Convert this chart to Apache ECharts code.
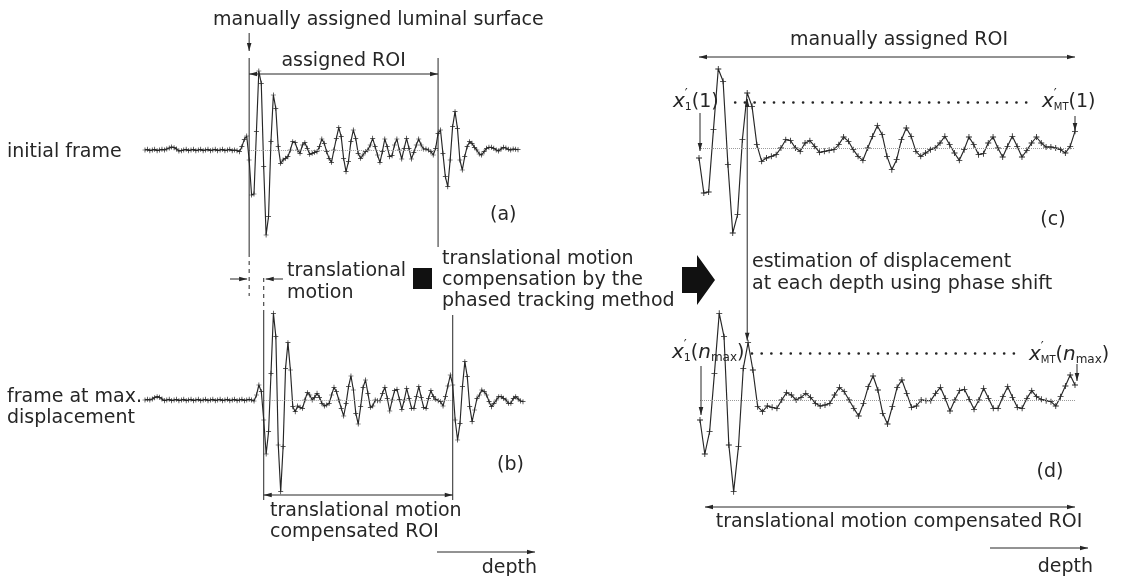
<!DOCTYPE html>
<html><head><meta charset="utf-8">
<script src="https://cdn.jsdelivr.net/npm/echarts@6/dist/echarts.min.js"></script>
<style>html,body{margin:0;padding:0;background:#fff}#c{width:1122px;height:576px}</style>
</head><body><div id="c"></div>
<script>
// ---- data (echo amplitudes, arbitrary units) ----
const preA = [0,0.2,-0.2,0,0.2,-0.2,0,0.2,0,0.3,0.6,0.9,0.7,0.3,-0.3,-0.2,0,0.2,-0.2,0,0.2,-0.2,0,0.2,-0.2,0,0.2,-0.2,0,0.2,-0.2,0,0.2,-0.2,0,0.2,-0.2,0,-0.2,-0.5,1.0,3.2,4.2];
const roiInitial = [-3,-13.5,-13.2,5.5,23.7,20,-5,-25.5,-20,2.5,16.5,12.5,1,-4,-3,-2.5,-2,0,2.5,2.2,0,-1,1.5,2.2,0.5,-1.3,-1,-0.7,-0.5,1,3.3,2,-0.5,-2.5,-3.7,0,3.5,6.7,4,-2.5,-6.5,-3.5,2.5,6,3.5,-1,-2.5,-1.5,-0.5,0,1.5,3.5,1,-1.5,-3.7,-0.5,3.3,1,-2,-1.7,1.5,3.3,0,-2.7,0.5,3.5,0.5,-2.7,-0.7,1.5,3.3,1.5,0.3,0.3,0,-0.5,-1.5,0.5,5];
const postA = [6,-1,-8,-11,-3,7,11.5,6.5,-3,-6,-2,1,2.5,2,0.8,0,-1.2,-1.5,-0.5,0.5,0.8,0.8,0.5,0,-0.3,0.3,0.8,0.6,0.2,0,0.3,0.2,0.1];
const preB = [0,0.2,0,0.3,0.7,1.0,0.8,0.3,-0.2,0,0.2,-0.2,0,0.2,-0.2,0,0.2,-0.2,0,0.2,-0.2,0,0.2,-0.2,0,0.2,-0.2,0,0.2,-0.2,0,0.2,-0.2,0,0.2,-0.2,0,0.2,-0.2,0,0.2,-0.2,0,0.2,0,-0.3,1.5,4.5,2.5];
const roiMax = [-6,-16.2,-9.5,8,26,19,-13.5,-27.5,-14,9.5,17.2,9,-2,-3.5,-1.8,-2.2,-2.5,0,2.2,1.5,0,0.8,2,0.8,-1,-1.8,-1.5,-1,1.5,3.8,2.5,0,-2.5,-4.8,-1,4,7.2,3,-4,-7.2,-2,3.8,6,2,-2.2,-1.8,0,-0.2,-0.2,2,3.8,0.5,-3.3,0,2.8,3.2,0.2,-2.8,0,3.5,0.5,-2.5,-2.5,1,4,0.8,-2.2,-2.5,0.5,2.8,1,0.2,-0.2,-0.5,-1.8,1,4.2,7.5,4.5];
const postB = [-6,-12,-7,4,11.5,7,-2,-6.5,-3,0.5,1.5,3,2.5,1.5,-0.5,-2,-1,0,1,1,0.5,0,-1,-1,0.5,1,0.3,-0.3,-0.5];
// reference (dotted) levels in panels (c) and (d): [startIndex, endIndex, level]
const refC = [7.5, 68, 13.8];
const refD = [10.8, 65.5, 14.1];
const peakIndex = 10; // surface echo peak used for displacement estimation

const frameInitial = preA.concat(roiInitial, postA);
const frameMax = preB.concat(roiMax, postB);

// ---- chart ----
const FONT = 'DejaVu Sans';
const INK = '#262626';
const FS = 19;
const plus = 'path://M4.3,0H5.7V4.3H10V5.7H5.7V10H4.3V5.7H0V4.3H4.3Z';
const pairs = a => a.map((v, i) => [i, v]);

const grids = [
  {left:145, top:50, width:373, height:200},
  {left:145, top:300, width:378, height:200},
  {left:699, top:48, width:376, height:200},
  {left:700, top:300, width:375, height:200}
];
const lens = [frameInitial.length, frameMax.length, roiInitial.length, roiMax.length];
const xAxes = grids.map((g, i) => ({type:'value', gridIndex:i, min:0, max:lens[i]-1, show:false}));
const yAxes = grids.map((g, i) => ({type:'value', gridIndex:i, min:-30, max:30, show:false}));

const faint = {type:'dotted', color:'#9a9a9a', width:1};
const dark = {type:[0.1, 9.6], cap:'round', color:'#222', width:2.6};
function ml(segs, style){
  return {silent:true, symbol:['none','none'], label:{show:false}, lineStyle:style,
    data: segs.map(s => [{coord:s[0]}, {coord:s[1]}])};
}
function sig(i, data, size, markLine){
  return {type:'line', xAxisIndex:i, yAxisIndex:i, data:pairs(data), symbol:plus, symbolSize:size,
    showSymbol:true, showAllSymbol:true, clip:false, silent:true, animation:false,
    lineStyle:{color:INK, width:1.15}, itemStyle:{color:INK}, markLine};
}
const aStart = preA.length, aEnd = preA.length + roiInitial.length - 1;
const bStart = preB.length, bEnd = preB.length + roiMax.length - 1;

const chart = echarts.init(document.getElementById('c'));
chart.setOption({
  animation:false, backgroundColor:'#fff',
  grid: grids, xAxis: xAxes, yAxis: yAxes,
  series: [
    sig(0, frameInitial, 5, ml([[[aStart,0],[aEnd,0]]], faint)),
    sig(1, frameMax, 5, ml([[[bStart,0],[bEnd,0]]], faint)),
    sig(2, roiInitial, 6, {silent:true, symbol:['none','none'], label:{show:false}, data:[
      [{coord:[0,0], lineStyle:faint},{coord:[roiInitial.length-1,0]}],
      [{coord:[refC[0],refC[2]], lineStyle:dark},{coord:[refC[1],refC[2]]}]]}),
    sig(3, roiMax, 6, {silent:true, symbol:['none','none'], label:{show:false}, data:[
      [{coord:[0,0], lineStyle:faint},{coord:[roiMax.length-1,0]}],
      [{coord:[refD[0],refD[2]], lineStyle:dark},{coord:[refD[1],refD[2]]}]]})
  ]
});

// ---- annotations ----
const px = (g, p) => chart.convertToPixel({gridIndex:g}, p);
const mctx = document.createElement('canvas').getContext('2d');
function txt(t, x, y, o){ o = o || {};
  return {type:'text', x, y, z:10, style:{text:t, fontSize:o.size||FS, fontFamily:FONT,
    fontStyle:o.italic?'italic':'normal', fill:INK, align:o.align||'left', verticalAlign:'middle'}};
}
function formula(x, y, parts){ // [text, size, italic, dy, advance?]
  const els = []; let cx = x;
  parts.forEach(p => {
    els.push(txt(p[0], cx, y + (p[3]||0), {size:p[1], italic:p[2]}));
    mctx.font = (p[2]?'italic ':'') + p[1] + 'px ' + FONT;
    cx += (p[4] !== undefined) ? p[4] : mctx.measureText(p[0]).width;
  });
  return els;
}
function seg(x1, y1, x2, y2, dash){
  return {type:'line', z:10, shape:{x1,y1,x2,y2}, style:{stroke:INK, lineWidth:1, lineDash:dash||null}};
}
function head(ax, ay, bx, by, L, W){
  const a = Math.atan2(by-ay, bx-ax), s = Math.sin(a), c = Math.cos(a);
  const qx = bx - L*c, qy = by - L*s;
  return {type:'polygon', z:10, shape:{points:[[bx,by],[qx+W*s,qy-W*c],[qx-W*s,qy+W*c]]}, style:{fill:INK}};
}
function arrow(x1, y1, x2, y2, both){
  const e = [seg(x1,y1,x2,y2), head(x1,y1,x2,y2,8,2.3)];
  if (both) e.push(head(x2,y2,x1,y1,8,2.3));
  return e;
}

const xa0 = px(0,[aStart,0])[0], xa1 = px(0,[aEnd,0])[0];
const xb0 = px(1,[bStart,0])[0], xb1 = px(1,[bEnd,0])[0];
const xc0 = px(2,[0,0])[0], xc1 = px(2,[roiInitial.length-1,0])[0];
const pk = px(2,[peakIndex, roiInitial[peakIndex]]);
const pkD = px(3,[peakIndex, roiMax[peakIndex]]);

let G = [];
// panel (a)
G.push(txt('manually assigned luminal surface', 213, 20));
G.push(...arrow(xa0, 33, xa0, 51));
G.push(seg(xa0, 58, xa0, 253), seg(xa0, 253, xa0, 296, [4,4]));
G.push(seg(xa1, 58, xa1, 247));
G.push(...arrow(xa0, 74, xa1, 74, true));
G.push(txt('assigned ROI', (xa0+xa1)/2, 61, {align:'center'}));
G.push(txt('initial frame', 7, 152));
G.push(txt('(a)', 490, 215));
// translational motion
G.push(...arrow(230, 279, xa0-2, 279));
G.push(...arrow(283, 279, xb0+2, 279));
G.push(seg(xb0, 278, xb0, 312, [4,4]), seg(xb0, 312, xb0, 500));
G.push(seg(xb1, 315, xb1, 500));
G.push(txt('translational', 287, 271), txt('motion', 287, 293));
// panel (b)
G.push(txt('frame at max.', 7, 397), txt('displacement', 7, 418));
G.push(txt('(b)', 497, 465));
G.push(...arrow(xb0, 495, xb1, 495, true));
G.push(txt('translational motion', 270, 511), txt('compensated ROI', 270, 532));
G.push(...arrow(437, 552, 535, 552));
G.push(txt('depth', 537, 568, {align:'right'}));
// middle
G.push({type:'rect', z:10, shape:{x:413, y:268, width:19, height:21}, style:{fill:'#111'}});
G.push(txt('translational motion', 442, 259), txt('compensation by the', 442, 280), txt('phased tracking method', 442, 301));
G.push({type:'polygon', z:10, shape:{points:[[682,267],[697,267],[697,255],[715,280],[697,305],[697,293],[682,293]]}, style:{fill:'#111'}});
// panel (c)
G.push(txt('manually assigned ROI', 899, 40, {align:'center'}));
G.push(...arrow(xc0, 57, xc1, 57, true));
G.push(...formula(673, 102, [['x',20,true,0],['\u2032',13,false,-8,0],['1',11,false,5],['(1)',19,false,0]]));
G.push(...arrow(xc0+1, 113, xc0+1, 151));
G.push(...formula(1042, 102, [['x',20,true,0],['\u2032',13,false,-8,0],['MT',10,false,5],['(1)',19,false,0]]));
G.push(...arrow(xc1, 116, xc1, 131));
G.push(txt('(c)', 1053, 220, {align:'center'}));
G.push(...arrow(pk[0], pk[1]+6, pk[0], pkD[1]-2, true));
G.push(txt('estimation of displacement', 752, 262), txt('at each depth using phase shift', 752, 284));
// panel (d)
G.push(...formula(672, 353, [['x',20,true,0],['\u2032',13,false,-8,0],['1',11,false,5],['(',19,false,0],['n',20,true,0],['max',12,false,5],[')',19,false,0]]));
G.push(...arrow(701, 366, 701, 415));
G.push(...formula(1029, 355, [['x',20,true,0],['\u2032',13,false,-8,0],['MT',10,false,5],['(',19,false,0],['n',20,true,0],['max',12,false,5],[')',19,false,0]]));
G.push(...arrow(1077, 364, 1077, 381));
G.push(txt('(d)', 1050, 472, {align:'center'}));
G.push(...arrow(705, 507, 1075, 507, true));
G.push(txt('translational motion compensated ROI', 899, 522, {align:'center'}));
G.push(...arrow(990, 548, 1088, 548));
G.push(txt('depth', 1093, 567, {align:'right'}));

chart.setOption({graphic: G});
</script></body></html>
